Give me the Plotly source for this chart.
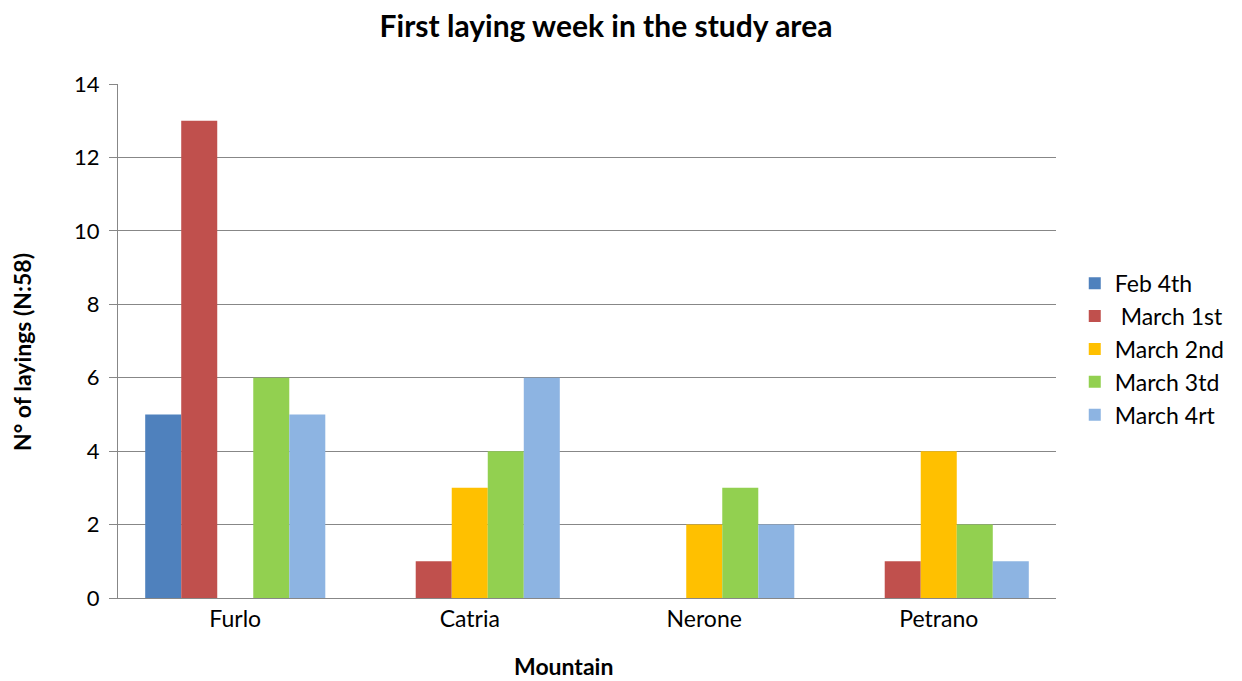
import plotly.graph_objects as go

categories = ["Furlo", "Catria", "Nerone", "Petrano"]
series_names = ["Feb 4th", " March 1st", "March 2nd", "March 3td", "March 4rt"]
feb_4th = [5, 0, 0, 0]
march_1st = [13, 1, 0, 1]
march_2nd = [0, 3, 2, 4]
march_3td = [6, 4, 3, 2]
march_4rt = [5, 6, 2, 1]
series_values = [feb_4th, march_1st, march_2nd, march_3td, march_4rt]
colors = ["#4F81BD", "#C0504D", "#FFC000", "#92D050", "#8DB4E2"]
y_ticks = [0, 2, 4, 6, 8, 10, 12, 14]

FONT = "Lato, Carlito, 'Liberation Sans', sans-serif"
W, H = 1234, 673
L, R, T, B = 110, 186, 76, 83

fig = go.Figure()
for name, vals, col in zip(series_names, series_values, colors):
    fig.add_trace(go.Bar(x=categories, y=vals, name=name, marker=dict(color=col, line=dict(width=0))))

fig.update_layout(
    width=W, height=H,
    barmode="group", bargap=0.232, bargroupgap=0,
    plot_bgcolor="white", paper_bgcolor="white",
    margin=dict(l=L, r=R, t=T, b=B),
    font=dict(family=FONT, size=22, color="#000000"),
    title=dict(text="<b>First laying week in the study area</b>", xref="container", x=598 / W, xanchor="center",
               y=1 - 18 / H, yanchor="middle", font=dict(family=FONT, size=30, color="#000000")),
    legend=dict(x=1.020, xanchor="left", y=0.484, yanchor="middle",
                font=dict(family=FONT, size=23), tracegroupgap=0,
                bgcolor="rgba(0,0,0,0)"),
    showlegend=True,
)
fig.update_yaxes(range=[0, 14], tickvals=y_ticks, showgrid=True, gridcolor="#878787", gridwidth=1.3,
                 showline=True, linecolor="#878787", linewidth=1.3, ticks="outside", ticklen=8,
                 tickcolor="#878787", tickfont=dict(size=22), zeroline=False, ticklabelstandoff=5)
fig.update_xaxes(showline=True, linecolor="#878787", linewidth=1.3, ticks="", tickfont=dict(size=23))

plot_w = W - L - R
plot_h = H - T - B
fig.add_annotation(text="<b>Mountain</b>", xref="paper", yref="paper", x=(555 - L) / plot_w,
                   y=(H - B - 658) / plot_h, xanchor="center", yanchor="middle", showarrow=False,
                   font=dict(family=FONT, size=23))
fig.add_annotation(text="<b>N° of layings (N:58)</b>", xref="paper", yref="paper", x=(14 - L) / plot_w,
                   y=(H - B - 344) / plot_h, xanchor="center", yanchor="middle", showarrow=False,
                   textangle=-90, font=dict(family=FONT, size=23))

fig.write_html("out.html")
